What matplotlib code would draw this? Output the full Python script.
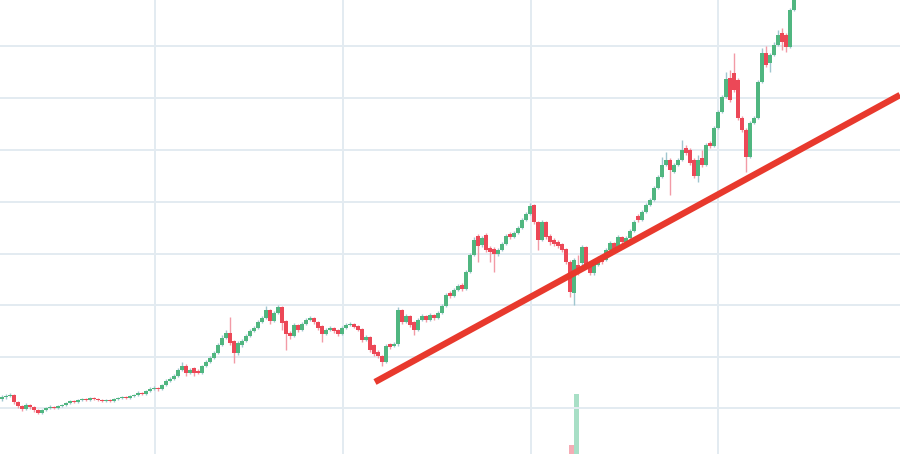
import matplotlib
matplotlib.use("Agg")
import matplotlib.pyplot as plt
import numpy as np

# OHLC data (one candle per session)
opens = [10.1,10.3,10.4,10.5,9.8,9.4,9.1,9.5,9.3,9.0,8.7,9.0,9.2,9.3,9.2,9.4,9.5,9.7,9.9,9.8,
         10.0,10.1,10.0,10.2,10.1,10.0,9.9,10.0,9.9,10.1,10.2,10.3,10.2,10.4,10.5,10.7,10.6,10.9,11.1,11.2,
         11.1,11.5,11.9,12.1,12.4,13.0,13.4,12.7,13.2,12.9,12.7,13.4,13.8,14.2,14.7,15.5,16.2,16.7,15.9,14.7,
         15.5,15.9,16.4,16.9,17.2,17.8,18.2,19.0,17.9,18.7,19.3,17.9,16.7,16.4,17.5,17.0,17.6,18.0,18.2,17.8,
         17.4,16.6,17.0,17.2,17.0,16.6,17.2,17.5,17.6,17.4,17.1,16.0,16.3,15.5,14.8,14.4,13.8,15.6,15.4,15.6,
         19.0,17.8,18.4,17.8,17.0,18.0,18.4,18.0,18.5,18.2,18.7,19.4,20.7,20.4,21.0,21.5,21.1,22.8,24.5,26.4,
         25.5,26.5,25.2,25.1,24.6,25.0,25.6,26.6,26.3,26.7,27.2,28.0,28.6,29.5,27.8,26.0,27.8,26.4,26.0,25.8,
         25.6,25.1,23.8,20.7,23.5,23.7,25.3,23.7,22.7,23.5,24.3,24.0,25.0,25.7,25.2,26.3,25.8,26.2,26.9,28.4,
         28.0,28.8,29.5,30.0,31.2,32.3,33.5,34.0,32.8,33.5,34.0,35.2,35.0,34.0,32.4,34.2,33.5,35.7,35.4,37.2,
         38.8,40.3,42.2,42.7,42.0,38.2,37.0,34.3,37.7,38.2,41.8,44.7,43.7,44.5,45.5,46.7,46.5,45.3,49.0]
closes = [10.3,10.4,10.5,9.8,9.4,9.1,9.5,9.3,9.0,8.7,9.0,9.2,9.3,9.2,9.4,9.5,9.7,9.9,9.8,10.0,
          10.1,10.0,10.2,10.1,10.0,9.9,10.0,9.9,10.1,10.2,10.3,10.2,10.4,10.5,10.7,10.6,10.9,11.1,11.2,11.1,
          11.5,11.9,12.1,12.4,13.0,13.4,12.7,13.0,12.7,12.7,13.4,13.8,14.2,14.7,15.5,16.2,16.7,15.7,14.7,15.7,
          15.9,16.4,16.9,17.2,17.8,18.2,19.0,17.9,18.7,19.3,17.7,16.6,16.4,17.5,17.0,17.6,18.0,18.2,17.8,17.2,
          16.6,17.0,17.2,16.9,16.6,17.2,17.5,17.6,17.3,17.0,16.0,16.3,15.0,14.6,14.4,13.8,15.4,15.3,15.6,19.0,
          17.8,18.4,17.5,17.0,18.0,18.4,18.0,18.5,18.2,18.7,19.4,20.5,20.4,21.0,21.4,21.1,22.8,24.5,26.0,25.4,
          26.2,25.0,24.8,24.6,25.0,25.6,26.4,26.3,26.7,27.2,28.0,28.6,29.4,27.8,26.0,27.8,26.3,25.8,25.6,25.4,
          25.0,23.8,20.8,24.0,23.1,25.3,23.5,22.7,23.7,24.2,23.8,25.0,25.7,25.1,26.3,25.8,26.2,26.9,27.8,28.0,
          28.8,29.5,30.0,31.2,32.3,33.5,34.0,33.0,33.5,34.0,35.0,34.7,33.7,32.4,34.0,33.5,35.5,35.4,37.2,38.8,
          40.3,42.1,40.0,41.0,38.2,37.0,34.3,37.7,38.2,41.8,44.7,43.5,44.5,45.5,46.5,45.8,45.3,49.0,51.5]
highs = [10.5,10.6,10.7,10.6,9.9,9.5,9.7,9.6,9.4,9.1,9.1,9.3,9.5,9.4,9.5,9.6,9.8,10.0,10.0,10.1,
         10.2,10.2,10.3,10.3,10.2,10.1,10.1,10.1,10.2,10.3,10.4,10.4,10.5,10.6,10.9,10.8,11.0,11.3,11.4,11.3,
         11.6,12.1,12.3,12.6,13.2,13.8,13.6,13.2,13.3,13.1,13.5,14.0,14.4,14.9,15.7,16.5,17.0,18.3,16.0,15.9,
         16.1,16.6,17.1,17.4,18.0,18.4,19.4,19.1,18.9,19.5,19.4,18.0,16.9,17.7,17.6,17.8,18.2,18.4,18.3,17.9,
         17.5,17.2,17.4,17.3,17.1,17.4,17.7,17.8,17.7,17.5,17.2,16.5,16.4,15.6,15.0,14.5,15.6,15.7,15.8,19.3,
         19.1,18.6,18.5,17.9,18.2,18.6,18.5,18.7,18.6,18.9,19.6,20.7,20.9,21.2,21.6,21.7,23.0,24.7,26.3,26.6,
         26.4,26.7,25.4,25.3,25.2,25.8,26.6,26.8,26.9,27.4,28.2,28.8,29.7,29.6,27.9,28.0,27.9,26.6,26.2,26.0,
         25.7,25.2,24.0,24.2,24.5,25.5,25.4,23.8,23.9,24.4,24.4,25.2,25.9,25.8,26.5,26.4,26.4,27.1,28.0,28.6,
         29.0,29.7,30.2,31.4,32.5,34.3,34.8,34.2,33.7,34.2,36.0,35.5,35.2,34.2,34.5,35.0,35.7,35.9,37.4,39.0,
         40.5,42.8,43.0,44.7,42.2,38.4,37.2,37.9,38.4,42.0,45.2,45.4,44.7,45.8,47.0,47.2,46.7,49.2,52.0]
lows = [9.9,10.1,10.3,9.6,9.2,8.9,9.0,9.1,8.8,8.6,8.6,8.9,9.1,9.1,9.1,9.3,9.4,9.6,9.7,9.7,
        9.9,9.9,9.9,10.0,9.9,9.8,9.8,9.8,9.8,10.0,10.1,10.1,10.1,10.3,10.4,10.5,10.5,10.8,11.0,10.9,
        11.0,11.4,11.8,12.0,12.3,12.9,12.4,12.6,12.4,12.6,12.6,13.3,13.7,14.1,14.6,15.4,16.1,15.5,13.7,14.5,
        15.3,15.8,16.3,16.8,17.1,17.7,18.1,17.6,17.8,18.6,17.0,15.0,16.1,16.3,16.8,16.9,17.5,17.9,17.6,17.0,
        15.8,16.5,16.9,16.7,16.4,16.5,17.1,17.4,17.2,16.9,15.8,15.9,14.8,14.4,14.2,13.4,13.7,15.1,15.3,15.4,
        17.6,17.7,17.3,16.5,16.9,17.9,17.8,17.9,18.0,18.1,18.6,19.3,20.2,20.3,20.9,20.9,21.0,22.7,24.4,23.8,
        25.3,24.8,23.8,22.8,24.4,24.9,25.5,26.1,26.2,26.6,27.1,27.9,28.5,27.6,25.0,25.9,26.1,25.5,25.4,25.2,
        24.8,23.6,20.3,19.5,22.5,23.5,23.3,22.5,22.5,23.4,23.6,23.9,24.9,24.9,25.1,25.6,25.7,26.1,26.8,27.8,
        27.9,28.7,29.4,29.9,31.1,32.2,33.4,30.5,32.7,33.4,33.9,34.5,33.5,32.2,31.8,33.3,33.4,35.2,35.3,37.1,
        38.7,40.2,39.8,40.8,38.0,36.8,32.8,34.2,37.6,38.1,41.7,43.3,42.8,44.4,45.4,45.0,44.8,45.2,48.9]

# Volume (only two bars are visible above the bottom edge)
vol_index = [142, 143]
vol_values = [2.0, 13.2]

# Trend line anchors (candle position, price)
trend_x = [93.25, 224.5]
trend_y = [11.8, 40.5]

# Grid levels
grid_prices = [9.2, 14.3, 19.5, 24.6, 29.8, 35.0, 40.2, 45.4]
grid_positions = [38.25, 85.25, 132.25, 179.0]

UP = "#50b680"
DOWN = "#ec4857"
UP_WICK = "#9fc6cf"
DOWN_WICK = "#f29aa6"

fig = plt.figure(figsize=(9.0, 4.54), dpi=100)
ax = fig.add_axes([0, 0, 1, 1])
ax.set_facecolor("white")

for g in grid_prices:
    ax.axhline(g, color="#e3ebf1", lw=1.4, zorder=0)
for g in grid_positions:
    ax.axvline(g, color="#e3ebf1", lw=1.4, zorder=0)

# Volume on its own scale
axv = ax.twinx()
axv.set_ylim(0, 100)
axv.axis("off")
for idx, v in zip(vol_index, vol_values):
    up = closes[idx] >= opens[idx]
    axv.bar(idx + 0.6 if up else idx + 0.4, v, width=1.1,
            color="#9fdcc0" if up else "#f4a3ad", alpha=0.9, zorder=1)

x = np.arange(len(opens))
o = np.array(opens); c = np.array(closes)
h = np.array(highs); l = np.array(lows)
up_mask = c >= o

ax.vlines(x[up_mask], l[up_mask], h[up_mask], color=UP_WICK, lw=1.0, zorder=2)
ax.vlines(x[~up_mask], l[~up_mask], h[~up_mask], color=DOWN_WICK, lw=1.0, zorder=2)
body = np.abs(c - o)
body = np.where(body < 0.08, 0.08, body)
ax.bar(x[up_mask], body[up_mask], bottom=np.minimum(o, c)[up_mask], width=0.85,
       color=UP, lw=0, zorder=3)
ax.bar(x[~up_mask], body[~up_mask], bottom=np.minimum(o, c)[~up_mask], width=0.85,
       color=DOWN, lw=0, zorder=3)

ax.plot(trend_x, trend_y, color="#e8392d", lw=4.6, solid_capstyle="butt", zorder=4)

ax.set_xlim(-0.5, 224.5)
ax.set_ylim(4.6, 50.0)
ax.set_xticks([]); ax.set_yticks([])
for s in ax.spines.values():
    s.set_visible(False)
ax.set_zorder(axv.get_zorder() + 1)
ax.patch.set_visible(False)
fig.patch.set_facecolor("white")

fig.savefig("out.png", dpi=100, facecolor="white")
